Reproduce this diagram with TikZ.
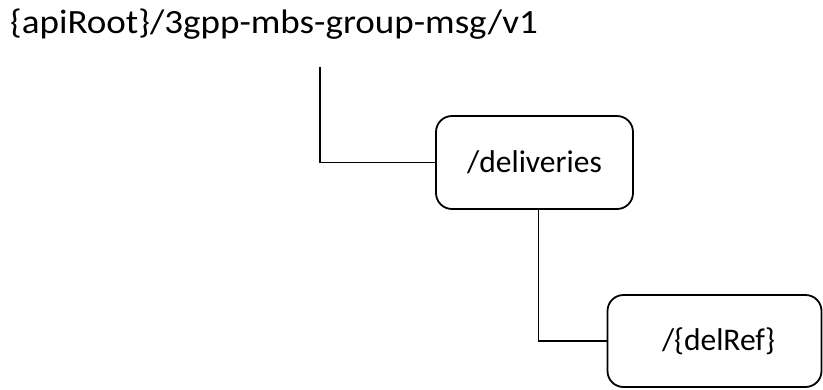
\documentclass[tikz,border=0pt]{standalone}
\usepackage{fontspec}
\setmainfont{Carlito}
\begin{document}
\begin{tikzpicture}[x=1pt,y=-1pt,
  res/.style={draw=black,line width=1.8pt,rounded corners=16pt,fill=white,inner sep=0pt,font=\fontsize{31.5}{36}\selectfont},
  conn/.style={draw=black,line width=1.8pt}]
\useasboundingbox (0,0) rectangle (823,389);
\node[anchor=base west,inner sep=0pt,font=\fontsize{34}{40}\selectfont,xscale=1.09,transform shape] (root) at (10,33) {\{apiRoot\}/3gpp-mbs-group-msg/v1};
\coordinate (c0) at (320,67);
\node[res,minimum width=197pt,minimum height=93pt] (del) at (534.5,162.5) {/deliveries};
\node[res,minimum width=214pt,minimum height=92pt] (ref) at (714.5,341) {\hspace{8pt}/\{delRef\}};
\draw[conn] (c0) |- (del.west);
\draw[conn] (del.south -| 538.5,0) |- (ref.west);
\end{tikzpicture}
\end{document}
